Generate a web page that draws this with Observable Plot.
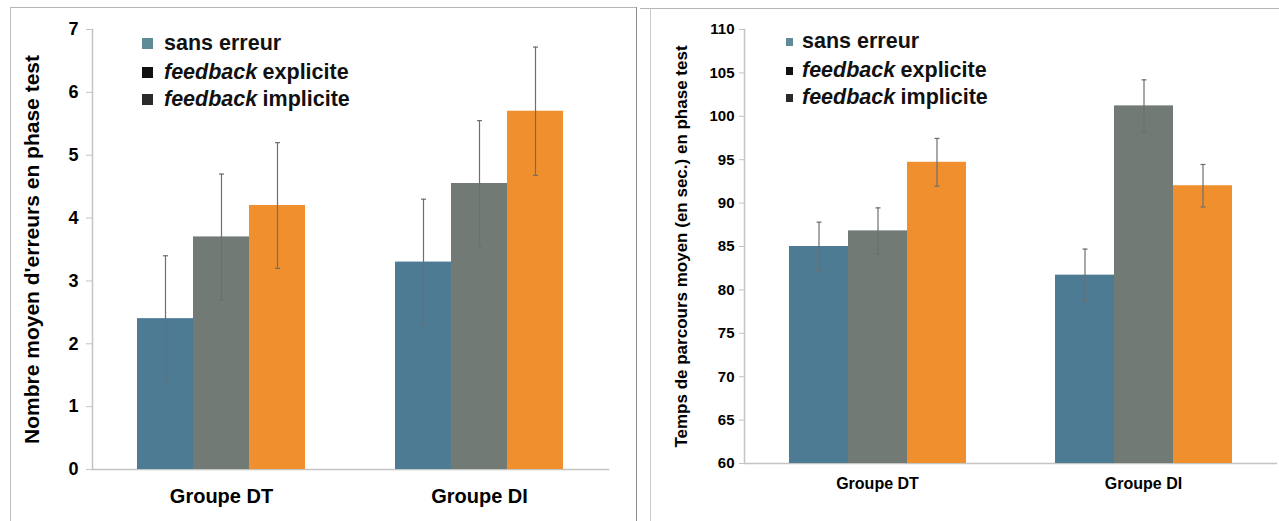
<!DOCTYPE html>
<html>
<head>
<meta charset="utf-8">
<script src="https://cdn.jsdelivr.net/npm/d3@7"></script>
<script src="https://cdn.jsdelivr.net/npm/@observablehq/plot@0.6"></script>
<style>
  html, body { margin: 0; padding: 0; background: #fff; }
  body { font-family: "Liberation Sans", Arial, sans-serif; }
  #page { position: relative; width: 1279px; height: 521px; overflow: hidden; }
  .chart { position: absolute; top: 0; }
  #left { left: 0; width: 636px; }
  #right { left: 640px; width: 639px; }
  .border { position: absolute; background: #9a9a9a; }
  .leg { position: absolute; font-weight: bold; color: #111; white-space: nowrap; display: flex; align-items: center; }
  .leg i { font-style: italic; margin-right: 0.25em; }
  .sw { display: inline-block; }
</style>
</head>
<body>
<div id="page">
  <div class="border" style="left:10px;top:7px;width:626px;height:1px;background:#b5b5b5"></div>
  <div class="border" style="left:10px;top:7px;width:1px;height:514px;background:#c0c0c0"></div>
  <div class="border" style="left:636px;top:7px;width:1px;height:514px;background:#8a8a8a"></div>
  <div class="border" style="left:640px;top:8px;width:639px;height:1px;background:#b5b5b5"></div>
  <div class="border" style="left:650px;top:8px;width:1px;height:513px;background:#c8c8c8"></div>
  <div id="left" class="chart"></div>
  <div id="right" class="chart"></div>
</div>
<script>
// ---- Data ----
const groupes = ["Groupe DT", "Groupe DI"];
const conditions = ["sans erreur", "feedback explicite", "feedback implicite"];
const couleurs = ["#4d7b93", "#717a74", "#ef8f2d"];

// Nombre moyen d'erreurs
const erreursDT = [2.4, 3.7, 4.2];
const erreursDI = [3.3, 4.55, 5.7];
const erreursDT_et = [1.0, 1.0, 1.0];
const erreursDI_et = [1.0, 1.0, 1.02];
const ticksErreurs = [0, 1, 2, 3, 4, 5, 6, 7];

// Temps de parcours moyen (s)
const tempsDT = [85.0, 86.8, 94.7];
const tempsDI = [81.7, 101.2, 92.0];
const tempsDT_et = [2.8, 2.65, 2.75];
const tempsDI_et = [3.0, 3.0, 2.45];
const ticksTemps = [60, 65, 70, 75, 80, 85, 90, 95, 100, 105, 110];

function rows(dt, di, dtE, diE) {
  const out = [];
  [[dt, dtE], [di, diE]].forEach(([vals, errs], g) => {
    vals.forEach((v, i) => out.push({groupe: groupes[g], condition: conditions[i], valeur: v, et: errs[i]}));
  });
  return out;
}

const capSymbol = {
  draw(context, size) {
    const r = Math.sqrt(size / Math.PI);
    context.moveTo(-r, 0);
    context.lineTo(r, 0);
  }
};

function chart(data, ticks, opts) {
  const base = ticks[0];
  return Plot.plot({
    width: opts.width,
    height: 521,
    marginLeft: opts.marginLeft,
    marginRight: opts.marginRight,
    marginTop: opts.marginTop,
    marginBottom: opts.marginBottom,
    style: {fontFamily: "Liberation Sans, Arial, sans-serif", background: "transparent"},
    fx: {domain: groupes, padding: 0, label: null},
    x: {domain: conditions, paddingInner: 0, paddingOuter: opts.po, axis: null},
    y: {domain: [ticks[0], ticks[ticks.length - 1]], axis: null},
    color: {domain: conditions, range: couleurs},
    marks: [
      Plot.frame({anchor: "bottom", facet: "super", stroke: "#c4c4c4", strokeWidth: 1.5}),
      Plot.frame({anchor: "left", facet: "super", stroke: "#c4c4c4", strokeWidth: 1.5}),
      Plot.barY(data, {fx: "groupe", x: "condition", y1: base, y2: "valeur", fill: "condition"}),
      Plot.ruleX(data, {fx: "groupe", x: "condition", y1: d => d.valeur - d.et, y2: d => d.valeur + d.et, stroke: "#6e6e6e", strokeWidth: 1.2}),
      Plot.dot(data, {fx: "groupe", x: "condition", y: d => d.valeur + d.et, symbol: capSymbol, r: 2.5, stroke: "#6e6e6e", strokeWidth: 1.2}),
      Plot.dot(data, {fx: "groupe", x: "condition", y: d => d.valeur - d.et, symbol: capSymbol, r: 2.5, stroke: "#6e6e6e", strokeWidth: 1.2}),
      Plot.axisY({
        ticks: ticks, tickFormat: d => String(d), tickSize: opts.tickSize, tickPadding: opts.tickPadding,
        stroke: "#c4c4c4", fill: "#000", fontSize: opts.tickFont, fontWeight: "bold", label: null
      }),
      Plot.axisY({
        ticks: [], label: opts.label, labelAnchor: "center", labelOffset: opts.labelOffset, labelArrow: "none",
        fill: "#000", fontSize: opts.labelFont, fontWeight: "bold"
      }),
      Plot.axisFx({anchor: "bottom", tickSize: 0, tickPadding: opts.fxPadding, fontSize: opts.fxFont, fontWeight: "bold", fill: "#000", label: null})
    ]
  });
}

const left = chart(rows(erreursDT, erreursDI, erreursDT_et, erreursDI_et), ticksErreurs, {
  width: 636, marginLeft: 91, marginRight: 28, marginTop: 29, marginBottom: 52,
  po: 0.78, tickSize: 6, tickPadding: 8, tickFont: 18,
  label: "Nombre moyen d'erreurs en phase test", labelOffset: 68, labelFont: 21, fxPadding: 19, fxFont: 20
});
const right = chart(rows(tempsDT, tempsDI, tempsDT_et, tempsDI_et), ticksTemps, {
  width: 639, marginLeft: 103, marginRight: 3, marginTop: 29, marginBottom: 58,
  po: 0.746, tickSize: 5, tickPadding: 5, tickFont: 15,
  label: "Temps de parcours moyen (en sec.) en phase test", labelOffset: 70, labelFont: 17, fxPadding: 14, fxFont: 16
});

document.getElementById("left").appendChild(left);
document.getElementById("right").appendChild(right);

// Legends (overlaid on plot area, as in the reference)
const legendSwatches = ["#5e8b96", "#111111", "#2a2a2a"];
function legend(container, x, ys, sw, gap, font) {
  conditions.forEach((c, i) => {
    const row = document.createElement("div");
    row.className = "leg";
    row.style.left = x + "px";
    row.style.top = (ys[i] - font * 0.6) + "px";
    row.style.height = (font * 1.2) + "px";
    row.style.fontSize = font + "px";
    const s = document.createElement("span");
    s.className = "sw";
    s.style.width = sw[0] + "px";
    s.style.height = sw[1] + "px";
    s.style.background = legendSwatches[i];
    s.style.marginRight = gap + "px";
    row.appendChild(s);
    const label = document.createElement("span");
    if (c.startsWith("feedback")) {
      const it = document.createElement("i");
      it.textContent = "feedback";
      label.appendChild(it);
      label.appendChild(document.createTextNode(c.slice(9)));
    } else {
      label.textContent = c;
    }
    row.appendChild(label);
    container.appendChild(row);
  });
}
legend(document.getElementById("left"), 142, [43.5, 72.5, 100], [11, 11], 11, 21.5);
legend(document.getElementById("right"), 146, [42, 71, 98], [7, 8], 9, 21.5);
</script>
</body>
</html>
